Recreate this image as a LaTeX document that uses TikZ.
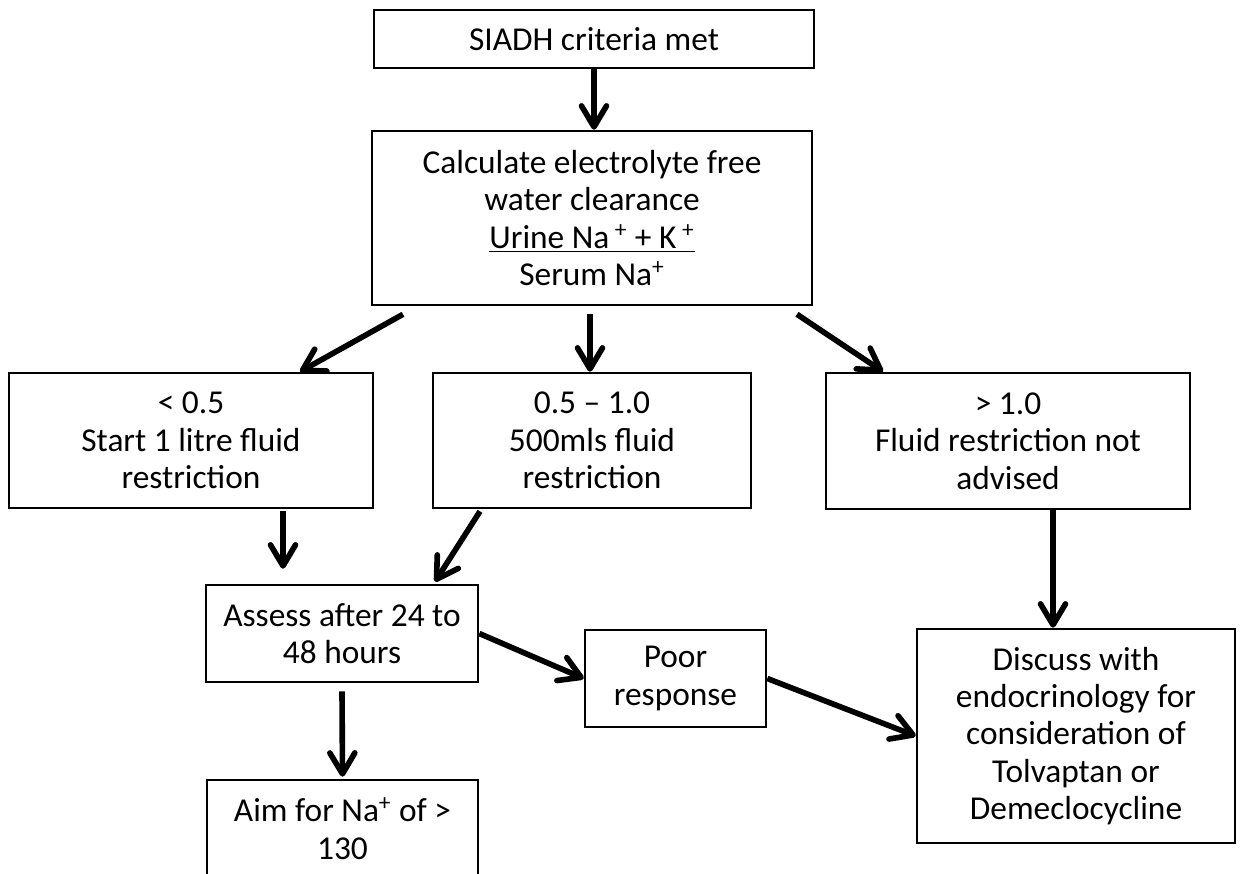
\documentclass[tikz,border=0pt]{standalone}
\usepackage{fontspec}
\setmainfont{Carlito}
\usetikzlibrary{arrows.meta,positioning,calc}

\begin{document}
\begin{tikzpicture}[
  x=0.02cm, y=-0.02cm,
  every node/.style={font=\fontsize{19}{21.3}\selectfont},
  box/.style={draw, line width=1.5pt, align=center, inner sep=0pt},
  flow/.style={line width=3.2pt, -{Straight Barb[length=0.42cm, width=0.5cm, round]}}
]
  \clip (0,0) rectangle (1243,874);

  \node[box, minimum width=8.8cm, minimum height=1.16cm] (siadh) at (594,39) {SIADH criteria met};
  \node[box, minimum width=8.8cm, minimum height=3.48cm] (ewc) at (592,218)
    {Calculate electrolyte free\\water clearance\\\underline{Urine Na\,\textsuperscript{+} + K\,\textsuperscript{+}}\\Serum Na\textsuperscript{+}};
  \node[box, minimum width=7.28cm, minimum height=2.7cm] (low) at (191,440.5) {< 0.5\\Start 1 litre fluid\\restriction};
  \node[box, minimum width=6.36cm, minimum height=2.7cm] (mid) at (592,440.5) {0.5 – 1.0\\500mls fluid\\restriction};
  \node[box, minimum width=7.28cm, minimum height=2.72cm] (high) at (1008,441) {> 1.0\\Fluid restriction not\\advised};
  \node[box, minimum width=5.44cm, minimum height=1.94cm] (assess) at (342,633.5) {Assess after 24 to\\48 hours};
  \node[box, minimum width=3.62cm, minimum height=1.94cm] (poor) at (675.5,678.5) {Poor\\response};
  \node[box, minimum width=6.36cm, minimum height=4.28cm] (endo) at (1076,736)
    {Discuss with\\endocrinology for\\consideration of\\Tolvaptan or\\Demeclocycline};
  \node[box, minimum width=5.42cm, minimum height=1.94cm] (aim) at (342.5,828.5) {Aim for Na\textsuperscript{+} of >\\130};

  \draw[flow] (siadh.south) -- (siadh.south |- ewc.north);
  \draw[flow] ($(ewc.south)+(-189,8)$) -- ($(low.north)+(109,0)$);
  \draw[flow] ($(ewc.south)+(-2,8)$) -- ($(mid.north)+(-2,0)$);
  \draw[flow] ($(ewc.south)+(205,8)$) -- ($(high.north)+(-125,0)$);
  \draw[flow] ($(low.south)+(92,2)$) -- ($(assess.north)+(-59,-15)$);
  \draw[flow] ($(mid.south)+(-112,2)$) -- ($(assess.north)+(93,-2)$);
  \draw[flow] ($(high.south)+(45,0)$) -- ($(endo.north)+(-23,0)$);
  \draw[flow] ($(assess.south)+(0,8)$) -- ($(aim.north)+(0,-2)$);
  \draw[flow] (assess.east) -- (poor.west);
  \draw[flow] (poor.east) -- (endo.west);
\end{tikzpicture}
\end{document}
